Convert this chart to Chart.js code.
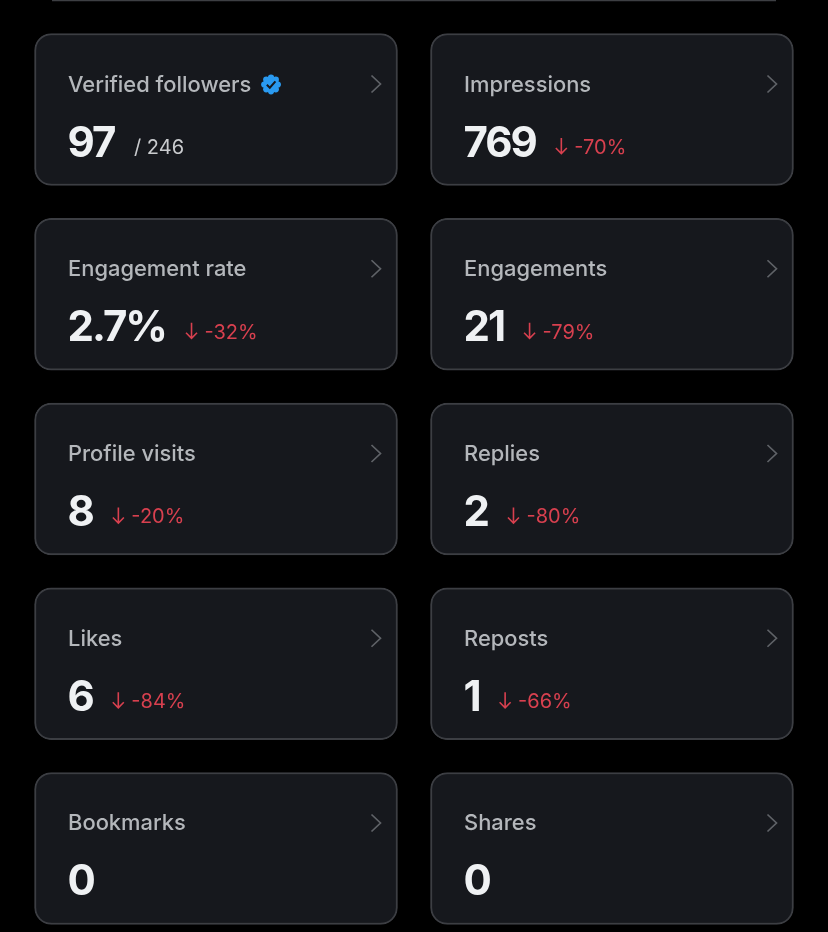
<!DOCTYPE html>
<html><head><meta charset="utf-8">
<style>html,body{margin:0;padding:0;background:#000;overflow:hidden}canvas{display:block}</style>
<script src="https://cdn.jsdelivr.net/npm/chart.js@4/dist/chart.umd.min.js"></script>
</head><body><div style="width:828px;height:932px"><canvas id="c" width="828" height="932"></canvas></div>
<script>
const leftLabels=["Verified followers","Engagement rate","Profile visits","Likes","Bookmarks"];
const leftValues=["97","2.7%","8","6","0"];
const leftChanges=[null,"-32%","-20%","-84%",null];
const rightLabels=["Impressions","Engagements","Replies","Reposts","Shares"];
const rightValues=["769","21","2","1","0"];
const rightChanges=["-70%","-79%","-80%","-66%",null];
const followerTotal="/ 246";
const rows=[0,1,2,3,4];
const rowPos=[0,1,2,3,4];

const LABEL_FONT='500 21.9px "Inter"', VALUE_FONT='700 42px "Inter"', SUB_FONT='400 20px "Inter"';
const cardPlugin={id:'cards',afterDatasetsDraw(chart){
  const ctx=chart.ctx;
  ctx.save();
  ctx.strokeStyle='#3d3f43';ctx.lineWidth=1.5;
  ctx.beginPath();ctx.moveTo(52,0.5);ctx.lineTo(776,0.5);ctx.stroke();
  const cols=[[leftLabels,leftValues,leftChanges],[rightLabels,rightValues,rightChanges]];
  cols.forEach(([labels,values,changes],c)=>{
    const meta=chart.getDatasetMeta(c);
    labels.forEach((t,i)=>{
      const bar=meta.data[i].getProps(['x','y','base'],true);
      const left=bar.base, right=bar.x, top=bar.y-75.5;
      const tx=left+33.5;
      ctx.textBaseline='alphabetic';ctx.textAlign='left';
      ctx.font=LABEL_FONT;ctx.fillStyle='#b4b7bb';
      ctx.fillText(t,tx,top+57.5);
      ctx.strokeStyle='#5f6267';ctx.lineWidth=1.7;ctx.lineJoin='miter';
      ctx.beginPath();ctx.moveTo(right-26,top+41.5);ctx.lineTo(right-17,top+50);ctx.lineTo(right-26,top+58.5);ctx.stroke();
      ctx.font=VALUE_FONT;ctx.fillStyle='#eff1f3';ctx.letterSpacing='-2px';
      ctx.fillText(values[i],tx-0.5,top+122.5);
      const endX=tx+ctx.measureText(values[i]).width;
      ctx.letterSpacing='0px';
      ctx.font=SUB_FONT;
      if(changes[i]){
        const ax=endX+25, ay0=top+104, ay1=top+119.5;
        ctx.strokeStyle='#d8404f';ctx.lineWidth=1.6;
        ctx.beginPath();ctx.moveTo(ax,ay0);ctx.lineTo(ax,ay1);
        ctx.moveTo(ax-5.5,ay1-5.5);ctx.lineTo(ax,ay1);ctx.lineTo(ax+5.5,ay1-5.5);ctx.stroke();
        ctx.fillStyle='#d8404f';
        ctx.fillText(changes[i],ax+13,top+120);
      }
      if(c===0&&i===0){
        ctx.fillStyle='#c9cbce';
        ctx.fillText(followerTotal,tx+66,top+120);
        const bx=left+236.5, by=top+50.5;
        ctx.fillStyle='#2a9af0';
        ctx.beginPath();ctx.arc(bx,by,7.8,0,Math.PI*2);ctx.fill();
        for(let k=0;k<8;k++){const a=k*Math.PI/4;
          ctx.beginPath();ctx.arc(bx+Math.cos(a)*6.8,by+Math.sin(a)*6.8,3.1,0,Math.PI*2);ctx.fill();}
        ctx.strokeStyle='#16181d';ctx.lineWidth=2;
        ctx.beginPath();ctx.moveTo(bx-4.2,by+0.2);ctx.lineTo(bx-1.2,by+3.2);ctx.lineTo(bx+4.4,by-3.2);ctx.stroke();
      }
    });
  });
  ctx.restore();
}};

const SPAN=0.4583;
const cardStyle={grouped:false,barThickness:152,backgroundColor:'#16181d',borderColor:'#3c3e43',borderWidth:2,borderRadius:17,borderSkipped:false};
new Chart(document.getElementById('c'),{
  type:'bar',
  data:{datasets:[
    {...cardStyle,data:rows.map(i=>({y:rowPos[i],x:[0-SPAN,0+SPAN]}))},
    {...cardStyle,data:rows.map(i=>({y:rowPos[i],x:[1-SPAN,1+SPAN]}))}
  ]},
  options:{
    indexAxis:'y',responsive:false,animation:false,devicePixelRatio:1,
    layout:{padding:0},
    scales:{
      x:{type:'linear',display:false,min:-0.5455,max:1.5455},
      y:{type:'linear',display:false,offset:false,reverse:true,min:-0.5927,max:4.452}
    },
    plugins:{legend:{display:false},tooltip:{enabled:false},colors:{enabled:false}},
    events:[]
  },
  plugins:[cardPlugin]
});
</script></body></html>
